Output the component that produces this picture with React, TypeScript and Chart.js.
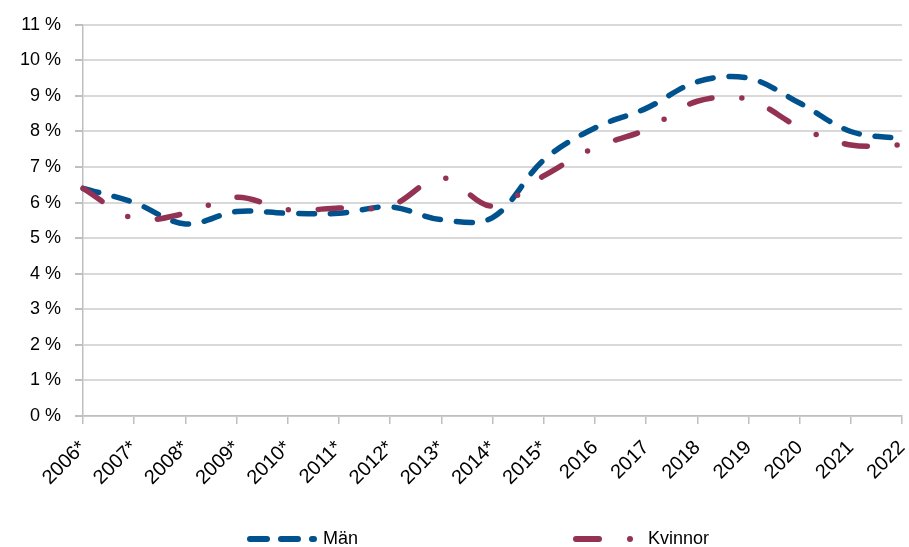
import React, { useEffect, useRef } from "react";
import { Chart, registerables } from "chart.js";

Chart.register(...registerables);

const categories = ["2006*", "2007*", "2008*", "2009*", "2010*", "2011*", "2012*", "2013*", "2014*", "2015*", "2016", "2017", "2018", "2019", "2020", "2021", "2022"];
const manValues = [6.4, 6.0, 5.4, 5.75, 5.7, 5.7, 5.88, 5.52, 5.58, 7.2, 8.1, 8.65, 9.4, 9.5, 8.8, 8.0, 7.8];
const kvinnorValues = [6.4, 5.55, 5.7, 6.15, 5.8, 5.85, 5.9, 6.7, 5.9, 6.75, 7.55, 8.05, 8.85, 8.9, 8.12, 7.62, 7.62];
const yTicks = [0, 1, 2, 3, 4, 5, 6, 7, 8, 9, 10, 11];

const BLUE = "#00528F";
const RED = "#943253";
const FONT = "'Liberation Sans', Arial, Helvetica, sans-serif";
const MAN_DASH = [16, 16];
const KV_DASH = [23, 30, 0, 30];

const legendPlugin = {
  id: "customLegend",
  afterDraw(chart: any) {
    const ctx = chart.ctx;
    const y = 539;
    ctx.save();
    ctx.lineCap = "round";
    ctx.lineWidth = 6;
    ctx.strokeStyle = BLUE;
    ctx.setLineDash([17, 14]);
    ctx.beginPath();
    ctx.moveTo(250, y);
    ctx.lineTo(314, y);
    ctx.stroke();
    ctx.strokeStyle = RED;
    ctx.setLineDash([23, 31, 0, 40]);
    ctx.beginPath();
    ctx.moveTo(576, y);
    ctx.lineTo(631, y);
    ctx.stroke();
    ctx.setLineDash([]);
    ctx.fillStyle = "#000";
    ctx.font = "18px " + FONT;
    ctx.textBaseline = "middle";
    ctx.textAlign = "left";
    ctx.fillText("Män", 323, y);
    ctx.fillText("Kvinnor", 648, y);
    ctx.restore();
  },
};

export default function App() {
  const ref = useRef<HTMLCanvasElement>(null);
  useEffect(() => {
    if (!ref.current) return;
    const chart = new Chart(ref.current, {
      type: "line",
      data: {
        labels: categories,
        datasets: [
          {
            label: "Män",
            data: manValues,
            borderColor: BLUE,
            backgroundColor: BLUE,
            borderWidth: 5.5,
            borderDash: MAN_DASH,
            borderCapStyle: "round",
            pointRadius: 0,
            tension: 0.35,
            fill: false,
            order: 1,
          },
          {
            label: "Kvinnor",
            data: kvinnorValues,
            borderColor: RED,
            backgroundColor: RED,
            borderWidth: 5.5,
            borderDash: KV_DASH,
            borderCapStyle: "round",
            pointRadius: 0,
            tension: 0.35,
            fill: false,
            order: 0,
          },
        ],
      },
      options: {
        animation: false,
        responsive: false,
        maintainAspectRatio: false,
        layout: { padding: { top: 23, right: 7, left: 0, bottom: 0 } },
        plugins: { legend: { display: false }, tooltip: { enabled: false } },
        scales: {
          x: {
            offset: false,
            grid: { drawOnChartArea: false, drawTicks: true, tickLength: 8, color: "#BFBFBF", lineWidth: 1.5 },
            border: { color: "#BFBFBF", width: 1.5 },
            ticks: {
              color: "#000",
              font: { family: FONT, size: 20 },
              maxRotation: 45,
              minRotation: 45,
              autoSkip: false,
              padding: 12,
            },
            afterFit(scale: any) {
              scale.height = 131;
              scale.paddingRight = 0;
              scale.paddingLeft = 0;
            },
          },
          y: {
            min: 0,
            max: 11,
            afterBuildTicks(scale: any) {
              scale.ticks = yTicks.map((v) => ({ value: v }));
            },
            grid: { color: "#D9D9D9", lineWidth: 2, tickLength: 8, tickColor: "#BFBFBF" },
            border: { color: "#BFBFBF", width: 1.5 },
            ticks: {
              color: "#000",
              font: { family: FONT, size: 18 },
              padding: 14,
              callback: (v: any) => v + " %",
            },
            afterFit(scale: any) {
              scale.width = 83;
            },
          },
        },
      },
      plugins: [legendPlugin],
    });
    return () => chart.destroy();
  }, []);
  return (
    <div style={{ position: "fixed", left: 0, top: 0, width: 909, height: 547, background: "#fff" }}>
      <canvas ref={ref} width={909} height={547} style={{ width: 909, height: 547 }} />
    </div>
  );
}
